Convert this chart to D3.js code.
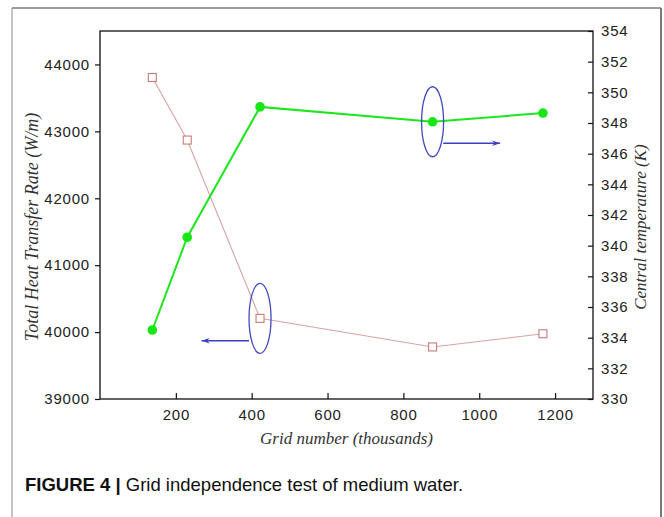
<!DOCTYPE html>
<html>
<head>
<meta charset="utf-8">
<script src="https://cdn.jsdelivr.net/npm/d3@7"></script>
<style>
  body { margin: 0; background: #fff; }
  svg { display: block; }
  .tick text { font-family: "Liberation Sans", Arial, sans-serif; font-size: 15px; letter-spacing: 0.8px; fill: #222; }
  .tick line { stroke: #111; stroke-width: 1.2; }
  .domain { display: none; }
  .axis-title { font-family: "Liberation Serif", "Times New Roman", serif; font-style: italic; font-size: 17px; fill: #333; }
</style>
</head>
<body>
<svg width="664" height="517"></svg>
<script>
// grid number (thousands)
const gridNumbers = [138, 230, 422, 877, 1168];
// total heat transfer rate (W/m), left axis
const heatRate = [43805, 42870, 40205, 39778, 39975];
// central temperature (K), right axis
const centralTemp = [334.5, 340.55, 349.05, 348.08, 348.65];

const xTicks = [200, 400, 600, 800, 1000, 1200];
const leftTicks = [39000, 40000, 41000, 42000, 43000, 44000];
const rightTicks = [330, 332, 334, 336, 338, 340, 342, 344, 346, 348, 350, 352, 354];

// annotation: ellipse round a point, arrow pointing to its axis (data units)
const heatNote = { point: 2, arrowFrom: 393, arrowTo: 268, arrowY: 39870 };
const tempNote = { point: 3, arrowFrom: 905, arrowTo: 1055, arrowY: 346.68 };

const svg = d3.select("svg");

// figure border
svg.append("line").attr("x1", 12).attr("x2", 12).attr("y1", 8).attr("y2", 517)
    .attr("stroke", "#c4c4c4").attr("stroke-width", 2);
svg.append("line").attr("x1", 12).attr("x2", 661).attr("y1", 8).attr("y2", 8)
    .attr("stroke", "#7a7a7a").attr("stroke-width", 1.5);
svg.append("line").attr("x1", 661).attr("x2", 661).attr("y1", 8).attr("y2", 517)
    .attr("stroke", "#7a7a7a").attr("stroke-width", 2);

const plotLeft = 100, plotRight = 593, plotTop = 31, plotBottom = 399;

const x = d3.scaleLinear().domain([0, 1300]).range([plotLeft, plotRight]);
const yL = d3.scaleLinear().domain([39000, 44500]).range([plotBottom, plotTop]);
const yR = d3.scaleLinear().domain([330, 354]).range([plotBottom, plotTop]);

// axes
svg.append("g").attr("transform", `translate(0,${plotBottom})`)
    .call(d3.axisBottom(x).tickValues(xTicks).tickFormat(d3.format("d"))
      .tickSizeInner(-6).tickSizeOuter(0).tickPadding(10));
svg.append("g").attr("transform", `translate(${plotLeft},0)`)
    .call(d3.axisLeft(yL).tickValues(leftTicks).tickFormat(d3.format("d"))
      .tickSizeInner(5).tickSizeOuter(0).tickPadding(5));
svg.append("g").attr("transform", `translate(${plotRight},0)`)
    .call(d3.axisRight(yR).tickValues(rightTicks).tickSizeInner(-5).tickSizeOuter(0).tickPadding(8));

// frame
svg.append("rect")
    .attr("x", plotLeft).attr("y", plotTop)
    .attr("width", plotRight - plotLeft).attr("height", plotBottom - plotTop)
    .attr("fill", "none").attr("stroke", "#111").attr("stroke-width", 1.3);

// axis titles
svg.append("text").attr("class", "axis-title")
    .attr("transform", `translate(38,${(plotTop + plotBottom) / 2 + 12}) rotate(-90)`)
    .attr("text-anchor", "middle").style("font-size", "18px")
    .text("Total Heat Transfer Rate (W/m)");
svg.append("text").attr("class", "axis-title")
    .attr("transform", `translate(646,${(plotTop + plotBottom) / 2 + 12}) rotate(-90)`)
    .attr("text-anchor", "middle").text("Central temperature (K)");
svg.append("text").attr("class", "axis-title")
    .attr("x", (plotLeft + plotRight) / 2).attr("y", 444)
    .attr("text-anchor", "middle").text("Grid number (thousands)");

// heat transfer series
svg.append("path")
    .datum(gridNumbers.map((g, i) => [g, heatRate[i]]))
    .attr("fill", "none").attr("stroke", "#d9a3a3").attr("stroke-width", 1.1)
    .attr("d", d3.line().x(d => x(d[0])).y(d => yL(d[1])));
svg.append("g").selectAll("rect")
    .data(gridNumbers.map((g, i) => [g, heatRate[i]]))
    .join("rect")
    .attr("x", d => x(d[0]) - 4).attr("y", d => yL(d[1]) - 4)
    .attr("width", 8).attr("height", 8)
    .attr("fill", "#fff").attr("stroke", "#c97a7a").attr("stroke-width", 1.1);

// temperature series
svg.append("path")
    .datum(gridNumbers.map((g, i) => [g, centralTemp[i]]))
    .attr("fill", "none").attr("stroke", "#1ee61e").attr("stroke-width", 2)
    .attr("d", d3.line().x(d => x(d[0])).y(d => yR(d[1])));
svg.append("g").selectAll("circle")
    .data(gridNumbers.map((g, i) => [g, centralTemp[i]]))
    .join("circle")
    .attr("cx", d => x(d[0])).attr("cy", d => yR(d[1]))
    .attr("r", 4.8).attr("fill", "#17e617");

// annotations
svg.append("defs").append("marker")
    .attr("id", "arrowhead")
    .attr("viewBox", "0 -5 10 10")
    .attr("refX", 10).attr("refY", 0)
    .attr("orient", "auto")
    .attr("markerUnits", "userSpaceOnUse")
    .attr("markerWidth", 14).attr("markerHeight", 8)
  .append("path")
    .attr("d", "M0,-3.5L10,0L0,3.5L3,0Z")
    .attr("fill", "#3b3fc0");

function annotate(note, xs, ys, yScale) {
  svg.append("ellipse")
      .attr("cx", x(xs[note.point])).attr("cy", yScale(ys[note.point]))
      .attr("rx", 11).attr("ry", 35)
      .attr("fill", "none").attr("stroke", "#4448c0").attr("stroke-width", 1.3);
  svg.append("line")
      .attr("x1", x(note.arrowFrom)).attr("x2", x(note.arrowTo))
      .attr("y1", yScale(note.arrowY)).attr("y2", yScale(note.arrowY))
      .attr("stroke", "#3b3fc0").attr("stroke-width", 1.6)
      .attr("marker-end", "url(#arrowhead)");
}
annotate(heatNote, gridNumbers, heatRate, yL);
annotate(tempNote, gridNumbers, centralTemp, yR);

// caption
const caption = svg.append("text")
    .attr("x", 25).attr("y", 491)
    .style("font-family", "'Liberation Sans', Arial, sans-serif")
    .style("font-size", "18.5px").style("fill", "#111");
caption.append("tspan").style("font-weight", "bold").text("FIGURE 4 | ");
caption.append("tspan").text("Grid independence test of medium water.");
</script>
</body>
</html>
